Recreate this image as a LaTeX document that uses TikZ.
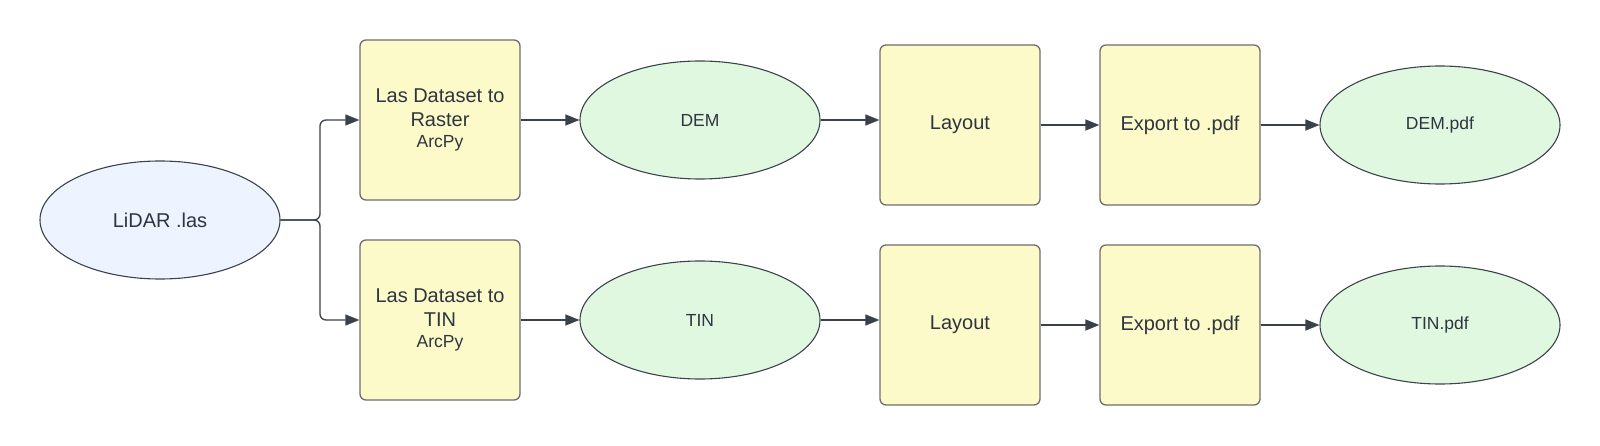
\documentclass[tikz,border=0pt]{standalone}
\usepackage{fontspec}
\setmainfont{Liberation Sans}
\usetikzlibrary{shapes.geometric,arrows.meta}
\definecolor{boxfill}{HTML}{FCFAC8}
\definecolor{greenfill}{HTML}{E0F8E0}
\definecolor{bluefill}{HTML}{EDF4FF}
\definecolor{boxline}{HTML}{6E6E6E}
\definecolor{ellline}{HTML}{3D434D}
\definecolor{txt}{HTML}{2F3540}
\definecolor{arrowc}{HTML}{3A414A}
\begin{document}
\begin{tikzpicture}[x=1pt,y=-1pt,
  big/.style={font=\fontsize{20}{24}\selectfont},
  procbox/.style={draw=boxline, line width=1.3pt, fill=boxfill, rounded corners=6pt,
    minimum width=160pt, minimum height=160pt, inner sep=0pt, align=center, text=txt, big},
  dataell/.style={ellipse, draw=ellline, line width=1.1pt, fill=greenfill,
    minimum width=240pt, minimum height=118pt, inner sep=0pt, text=txt,
    font=\fontsize{17.5}{21}\selectfont},
  srcell/.style={dataell, fill=bluefill, big},
  arr/.style={draw=arrowc, line width=1.3pt, -{Triangle[length=14pt,width=11pt]}}
]
\useasboundingbox (0,0) rectangle (1600,446);
\node[srcell] (lidar) at (160,220) {LiDAR .las};
\node[procbox] (b1) at (440,120) {Las Dataset to\\Raster\\[-3pt]{\fontsize{17.5}{21}\selectfont ArcPy}};
\node[procbox] (b2) at (440,320) {Las Dataset to\\TIN\\[-3pt]{\fontsize{17.5}{21}\selectfont ArcPy}};
\node[dataell] (dem) at (700,120) {DEM};
\node[dataell] (tin) at (700,320) {TIN};
\node[procbox] (lay1) at (960,125) {Layout};
\node[procbox] (lay2) at (960,325) {Layout};
\node[procbox] (exp1) at (1180,125) {Export to .pdf};
\node[procbox] (exp2) at (1180,325) {Export to .pdf};
\node[dataell] (dpdf) at (1440,125) {DEM.pdf};
\node[dataell] (tpdf) at (1440,325) {TIN.pdf};
\coordinate (split) at (320,220);
\draw[arr, rounded corners=6pt] (lidar.east) -- (split) |- (b1.west);
\draw[arr, rounded corners=6pt] (lidar.east) -- (split) |- (b2.west);
\draw[arr] (b1.east) -- (dem.west);
\draw[arr] (b2.east) -- (tin.west);
\draw[arr] (dem.east) -- (dem.east -| lay1.west);
\draw[arr] (tin.east) -- (tin.east -| lay2.west);
\draw[arr] (lay1.east) -- (exp1.west);
\draw[arr] (lay2.east) -- (exp2.west);
\draw[arr] (exp1.east) -- (dpdf.west);
\draw[arr] (exp2.east) -- (tpdf.west);
\end{tikzpicture}
\end{document}
